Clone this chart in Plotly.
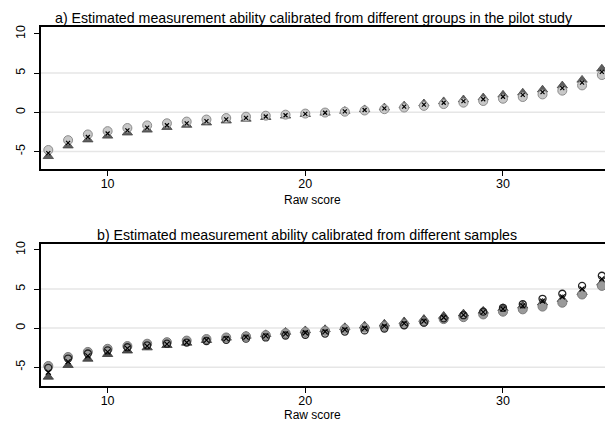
import plotly.graph_objects as go

raw = list(range(7, 36))

# Panel a: estimated ability by calibration group (pilot study)
a_light = [-4.8, -3.55, -2.82, -2.4, -2.0, -1.67, -1.4, -1.18, -0.92, -0.73, -0.56, -0.43, -0.3, -0.16,
           -0.03, 0.08, 0.23, 0.4, 0.61, 0.82, 1.05, 1.23, 1.44, 1.73, 1.95, 2.28, 2.76, 3.43, 4.75]
a_dark = [-5.6, -4.25, -3.48, -3.0, -2.6, -2.23, -1.9, -1.62, -1.32, -1.07, -0.84, -0.63, -0.44, -0.24,
          -0.07, 0.16, 0.37, 0.6, 0.85, 1.12, 1.39, 1.63, 1.88, 2.23, 2.49, 2.88, 3.4, 4.13, 5.55]
a_x = [-5.2, -3.9, -3.15, -2.7, -2.3, -1.95, -1.65, -1.4, -1.12, -0.9, -0.7, -0.53, -0.37, -0.2,
       -0.05, 0.12, 0.3, 0.5, 0.73, 0.97, 1.22, 1.43, 1.66, 1.98, 2.22, 2.58, 3.08, 3.78, 5.15]

# Panel b: estimated ability by calibration sample
b_hollow = [-5.1, -3.9, -3.25, -2.85, -2.45, -2.2, -2.0, -1.85, -1.65, -1.5, -1.35, -1.2, -0.95, -0.85,
            -0.7, -0.45, -0.3, -0.05, 0.35, 0.7, 1.25, 1.65, 2.1, 2.6, 3.05, 3.75, 4.4, 5.4, 6.7]
b_x = [-5.65, -4.3, -3.55, -3.05, -2.6, -2.3, -2.05, -1.85, -1.55, -1.35, -1.15, -1.0, -0.75, -0.6,
       -0.45, -0.2, -0.02, 0.25, 0.6, 0.9, 1.35, 1.7, 2.05, 2.45, 2.85, 3.45, 4.0, 5.0, 6.3]
b_tri = [-6.25, -4.75, -3.95, -3.35, -2.9, -2.5, -2.2, -1.9, -1.55, -1.25, -1.0, -0.8, -0.5, -0.3,
         -0.15, 0.1, 0.3, 0.55, 0.85, 1.15, 1.55, 1.85, 2.2, 2.55, 2.85, 3.25, 3.7, 4.6, 5.8]
b_gray = [-4.85, -3.7, -3.05, -2.65, -2.3, -2.0, -1.8, -1.6, -1.4, -1.2, -1.05, -0.9, -0.65, -0.5,
          -0.35, -0.1, 0.05, 0.25, 0.5, 0.8, 1.15, 1.4, 1.75, 2.1, 2.4, 2.75, 3.25, 4.3, 5.4]

x_ticks = [10, 20, 30]
y_ticks = [-5, 0, 5, 10]
grid_y = [-5, 0, 5]
title_a = "a) Estimated measurement ability calibrated from different groups in the pilot study"
title_b = "b) Estimated measurement ability calibrated from different samples"
x_title = "Raw score"

FONT = "Liberation Sans, Arial, sans-serif"
W, H = 605, 423

fig = go.Figure()

# panel a traces
fig.add_trace(go.Scatter(x=raw, y=a_dark, mode="markers", xaxis="x", yaxis="y",
                         marker=dict(symbol="triangle-up", size=9, color="#5f5f5f",
                                     line=dict(width=0.8, color="#454545"))))
fig.add_trace(go.Scatter(x=raw, y=a_light, mode="markers", xaxis="x", yaxis="y",
                         marker=dict(symbol="circle", size=9, color="#c8c8c8",
                                     line=dict(width=1, color="#8c8c8c"))))
fig.add_trace(go.Scatter(x=raw, y=a_x, mode="markers", xaxis="x", yaxis="y",
                         marker=dict(symbol="x-thin", size=4, color="black",
                                     line=dict(width=1.2, color="black"))))

# panel b traces
fig.add_trace(go.Scatter(x=raw, y=b_tri, mode="markers", xaxis="x2", yaxis="y2",
                         marker=dict(symbol="triangle-up", size=9, color="#4f4f4f",
                                     line=dict(width=0.8, color="#383838"))))
fig.add_trace(go.Scatter(x=raw, y=b_gray, mode="markers", xaxis="x2", yaxis="y2",
                         marker=dict(symbol="circle", size=9, color="#9a9a9a",
                                     line=dict(width=1, color="#7a7a7a"))))
fig.add_trace(go.Scatter(x=raw, y=b_hollow, mode="markers", xaxis="x2", yaxis="y2",
                         marker=dict(symbol="circle-open", size=7, color="#222222",
                                     line=dict(width=1.3, color="#222222"))))
fig.add_trace(go.Scatter(x=raw, y=b_x, mode="markers", xaxis="x2", yaxis="y2",
                         marker=dict(symbol="x-thin", size=5, color="black",
                                     line=dict(width=1.2, color="black"))))

# gridlines
for yref, xref in (("y", "x"), ("y2", "x2")):
    for g in grid_y:
        fig.add_shape(type="line", xref=f"{xref} domain", yref=yref, x0=0, x1=1, y0=g, y1=g,
                      line=dict(color="#e6e6e6", width=1.5), layer="below")

x_dom = [41 / W, 1.0]
ya_dom = [1 - 166.7 / H, 1 - 24 / H]
yb_dom = [1 - 385.7 / H, 1 - 242.7 / H]

xax = dict(range=[6.63, 35.16], tickvals=x_ticks, ticks="outside", ticklen=5, tickwidth=1.2,
           tickcolor="black", showline=True, linecolor="black", linewidth=2, mirror=True,
           showgrid=False, zeroline=False, domain=x_dom,
           tickfont=dict(family=FONT, size=12.5, color="black"), ticklabelstandoff=-3)
yax = dict(tickvals=y_ticks, ticktext=[str(v) for v in y_ticks], ticks="outside", ticklen=5,
           tickwidth=1.2, tickcolor="black", showline=True, linecolor="black", linewidth=2,
           mirror=False, showgrid=False, zeroline=False, tickangle=-90,
           tickfont=dict(family=FONT, size=12.5, color="black"), ticklabelstandoff=4)

fig.update_layout(
    width=W, height=H, margin=dict(l=0, r=0, t=0, b=0),
    paper_bgcolor="white", plot_bgcolor="white", showlegend=False,
    xaxis=dict(xax, anchor="y"),
    yaxis=dict(yax, range=[-7.16, 10.89], domain=ya_dom, anchor="x"),
    xaxis2=dict(xax, anchor="y2"),
    yaxis2=dict(yax, range=[-7.41, 10.77], domain=yb_dom, anchor="x2"),
    annotations=[
        dict(text=title_a, xref="paper", yref="paper", x=313.5 / W, y=1 - 15 / H,
             showarrow=False, xanchor="center", yanchor="middle",
             font=dict(family=FONT, size=14.2, color="black")),
        dict(text=title_b, xref="paper", yref="paper", x=307 / W, y=1 - 234 / H,
             showarrow=False, xanchor="center", yanchor="middle",
             font=dict(family=FONT, size=14.2, color="black")),
        dict(text=x_title, xref="paper", yref="paper", x=312 / W, y=1 - 198 / H,
             showarrow=False, xanchor="center", yanchor="middle",
             font=dict(family=FONT, size=12, color="black")),
        dict(text=x_title, xref="paper", yref="paper", x=312 / W, y=1 - 415 / H,
             showarrow=False, xanchor="center", yanchor="middle",
             font=dict(family=FONT, size=12, color="black")),
    ],
)

fig.write_html("out.html")
